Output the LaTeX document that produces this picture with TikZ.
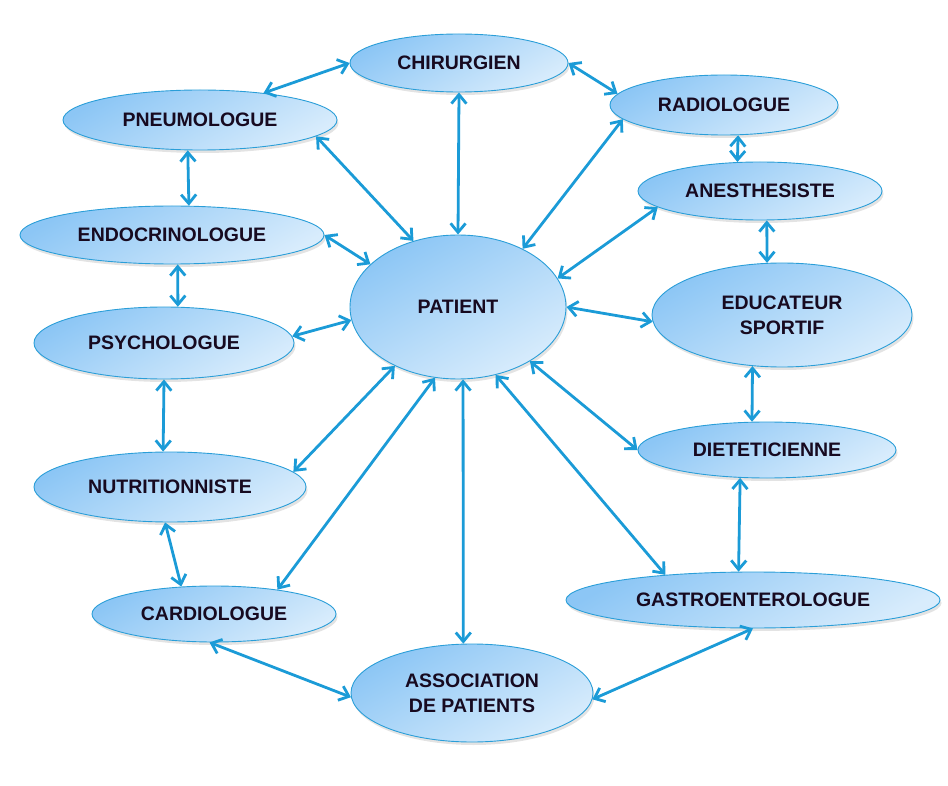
\documentclass[tikz,border=0pt]{standalone}
\usepackage{fontspec}
\setmainfont{Liberation Sans}
\usetikzlibrary{arrows.meta,shapes.geometric,shadows}
\definecolor{ringblue}{HTML}{2A9ED8}
\definecolor{fillTop}{HTML}{8CC6F5}
\definecolor{fillBot}{HTML}{D8ECFC}
\definecolor{linkblue}{HTML}{1B9BD7}
\definecolor{textdark}{HTML}{170A20}

\begin{document}
\begin{tikzpicture}[x=1pt,y=-1pt,
    spec/.style={ellipse, draw=ringblue, line width=0.9pt, top color=fillTop, bottom color=fillBot, shading angle=30,
        inner sep=0pt, align=center, text=textdark, font=\fontsize{19.5}{25}\selectfont\bfseries,
        drop shadow={opacity=0.22, shadow xshift=1.5pt, shadow yshift=-3pt}},
    link/.style={{Straight Barb[length=9pt,width=15pt]}-{Straight Barb[length=9pt,width=15pt]}, line width=2.8pt, draw=linkblue}
]
\useasboundingbox (0,0) rectangle (948,786);

% Nodes
\node[spec, minimum width=218pt, minimum height=58pt] (chir) at (459,63) {CHIRURGIEN};
\node[spec, minimum width=274pt, minimum height=60pt] (pneumo) at (200,120) {PNEUMOLOGUE};
\node[spec, minimum width=228pt, minimum height=60pt] (radio) at (724,105) {RADIOLOGUE};
\node[spec, minimum width=244pt, minimum height=58pt] (anes) at (760,191) {ANESTHESISTE};
\node[spec, minimum width=304pt, minimum height=58pt] (endo) at (172,235) {ENDOCRINOLOGUE};
\node[spec, minimum width=216pt, minimum height=144pt] (patient) at (458,307) {PATIENT};
\node[spec, minimum width=260pt, minimum height=104pt] (educ) at (782,315) {EDUCATEUR\\SPORTIF};
\node[spec, minimum width=260pt, minimum height=72pt] (psycho) at (164,343) {PSYCHOLOGUE};
\node[spec, minimum width=258pt, minimum height=56pt] (diet) at (767,450) {DIETETICIENNE};
\node[spec, minimum width=272pt, minimum height=70pt] (nutr) at (170,487) {NUTRITIONNISTE};
\node[spec, minimum width=374pt, minimum height=56pt] (gastro) at (753,600) {GASTROENTEROLOGUE};
\node[spec, minimum width=244pt, minimum height=56pt] (cardio) at (214,614) {CARDIOLOGUE};
\node[spec, minimum width=242pt, minimum height=98pt] (assoc) at (472,693) {ASSOCIATION\\DE PATIENTS};

% Arrows
\draw[link] (pneumo.23) -- (chir.west);
\draw[link] (chir.east) -- (radio.174);
\draw[link] (chir.south) -- (patient.north);
\draw[link] (pneumo.-8) -- (patient.124);
\draw[link] (radio.188) -- (patient.42);
\draw[link] (radio.-65) -- (anes.128);
\draw[link] (anes.189) -- (patient.16);
\draw[link] (anes.-77) -- (educ.106);
\draw[link] (patient.east) -- (educ.183);
\draw[link] (educ.-120) -- (diet.118);
\draw[link] (patient.-37) -- (diet.west);
\draw[link] (diet.-134) -- (gastro.117);
\draw[link] (patient.-61) -- (gastro.164);
\draw[link] (assoc.-3) -- (gastro.south);
\draw[link] (patient.-86) -- (assoc.100);
\draw[link] (cardio.-99) -- (assoc.182);
\draw[link] (patient.-108) -- (cardio.21);
\draw[link] (nutr.-98) -- (cardio.140);
\draw[link] (patient.-137) -- (nutr.7);
\draw[link] (psycho.south) -- (nutr.101);
\draw[link] (patient.187) -- (psycho.3);
\draw[link] (endo.-79) -- (psycho.69);
\draw[link] (patient.154) -- (endo.east);
\draw[link] (pneumo.-112) -- (endo.60);
\end{tikzpicture}
\end{document}
